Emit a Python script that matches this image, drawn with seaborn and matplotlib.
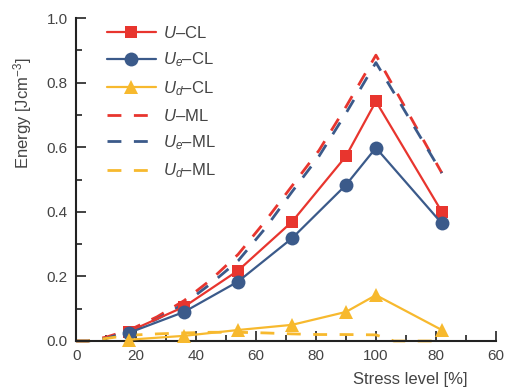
import matplotlib
matplotlib.use("Agg")
import matplotlib.pyplot as plt
import seaborn as sns
import numpy as np

# ---- data (x = position on the loading/unloading stress axis) ----
cl_x = [17.5, 36, 54, 72, 90, 100, 122]
u_cl = [0.029, 0.106, 0.218, 0.369, 0.572, 0.742, 0.400]
ue_cl = [0.025, 0.090, 0.184, 0.318, 0.483, 0.598, 0.364]
ud_cl = [0.004, 0.016, 0.034, 0.050, 0.090, 0.142, 0.034]

ml_x = [0, 4, 10, 18, 27, 36, 45, 54, 63, 72, 81, 90, 100, 122]
u_ml = [0.0, 0.0, 0.012, 0.035, 0.075, 0.125, 0.19, 0.268, 0.37, 0.48, 0.59, 0.725, 0.885, 0.52]
ue_ml = [0.0, 0.0, 0.008, 0.030, 0.068, 0.115, 0.178, 0.248, 0.348, 0.462, 0.572, 0.705, 0.862, 0.52]
ud_ml_x = [0, 4, 10, 18, 27, 36, 45, 54, 63, 72, 81, 90, 100, 106, 122]
ud_ml = [0.0, 0.0, 0.008, 0.018, 0.022, 0.025, 0.027, 0.027, 0.025, 0.022, 0.020, 0.020, 0.019, 0.0, 0.0]

tick_pos = [0, 20, 40, 60, 80, 100, 120, 140]
tick_labels = ["0", "20", "40", "60", "80", "100", "80", "60"]

labels = [r"$U$–CL", r"$U_e$–CL", r"$U_d$–CL", r"$U$–ML", r"$U_e$–ML", r"$U_d$–ML"]

RED = "#E8352E"
BLUE = "#3B5A8A"
YEL = "#F7B92E"

sns.set_style("ticks")
plt.rcParams["font.family"] = ["Liberation Sans", "DejaVu Sans"]
plt.rcParams["mathtext.fontset"] = "custom"
plt.rcParams["mathtext.rm"] = "Liberation Sans"
plt.rcParams["mathtext.it"] = "Liberation Sans:italic"
plt.rcParams["font.size"] = 10

fig = plt.figure(figsize=(5.08, 3.89), dpi=100)
ax = fig.add_axes([0.150, 0.1234, 0.826, 0.8303])

dash = (0, (5, 4.5))
# ML (dashed) lines underneath
sns.lineplot(x=ml_x, y=u_ml, ax=ax, color=RED, linewidth=2.0, linestyle=dash,
             label=labels[3], sort=False, zorder=2, clip_on=False)
sns.lineplot(x=ml_x, y=ue_ml, ax=ax, color=BLUE, linewidth=2.0, linestyle=dash,
             label=labels[4], sort=False, zorder=2, clip_on=False)
sns.lineplot(x=ud_ml_x, y=ud_ml, ax=ax, color=YEL, linewidth=2.0, linestyle=dash,
             label=labels[5], sort=False, zorder=2, clip_on=False)

# CL (solid with markers)
sns.lineplot(x=cl_x, y=u_cl, ax=ax, color=RED, linewidth=1.6, marker="s", markersize=9,
             markeredgecolor=RED, markeredgewidth=0, label=labels[0], sort=False,
             zorder=4, clip_on=False)
sns.lineplot(x=cl_x, y=ue_cl, ax=ax, color=BLUE, linewidth=1.6, marker="o", markersize=10,
             markeredgecolor=BLUE, markeredgewidth=0, label=labels[1], sort=False,
             zorder=4, clip_on=False)
sns.lineplot(x=cl_x, y=ud_cl, ax=ax, color=YEL, linewidth=1.6, marker="^", markersize=10.5,
             markeredgecolor=YEL, markeredgewidth=0, label=labels[2], sort=False,
             zorder=4, clip_on=False)

ax.set_xlim(0, 140)
ax.set_ylim(0, 1.0)
ax.set_xticks(tick_pos)
ax.set_xticklabels(tick_labels)
ax.set_xticks(np.arange(0, 141, 10), minor=True)
ax.set_yticks([0, 0.2, 0.4, 0.6, 0.8, 1.0])
ax.set_yticklabels(["0.0", "0.2", "0.4", "0.6", "0.8", "1.0"])
ax.set_yticks(np.arange(0, 1.01, 0.1), minor=True)

sns.despine(ax=ax)
for s in ["left", "bottom"]:
    ax.spines[s].set_linewidth(1.5)
    ax.spines[s].set_color("#222222")
ax.tick_params(which="major", direction="in", length=7, width=1.2, color="#222222",
               labelsize=11, labelcolor="#444444", pad=6)
ax.tick_params(which="minor", direction="in", length=4, width=1.2, color="#222222")

ax.set_ylabel(r"Energy [Jcm$^{-3}$]", fontsize=12, color="#444444")
ax.yaxis.set_label_coords(-0.10, 0.706)
ax.set_xlabel("Stress level [%]", fontsize=12, color="#444444")
ax.xaxis.set_label_coords(0.795, -0.097)

h, l = ax.get_legend_handles_labels()
hd = dict(zip(l, h))
leg = ax.legend([hd[x] for x in labels], labels, loc="upper left",
                bbox_to_anchor=(0.074, 0.978), frameon=False, fontsize=12,
                handlelength=2.9, handletextpad=0.45, labelspacing=0.58,
                borderpad=0, borderaxespad=0, numpoints=1)
for t in leg.get_texts():
    t.set_color("#444444")

fig.savefig("out.png", dpi=100)
